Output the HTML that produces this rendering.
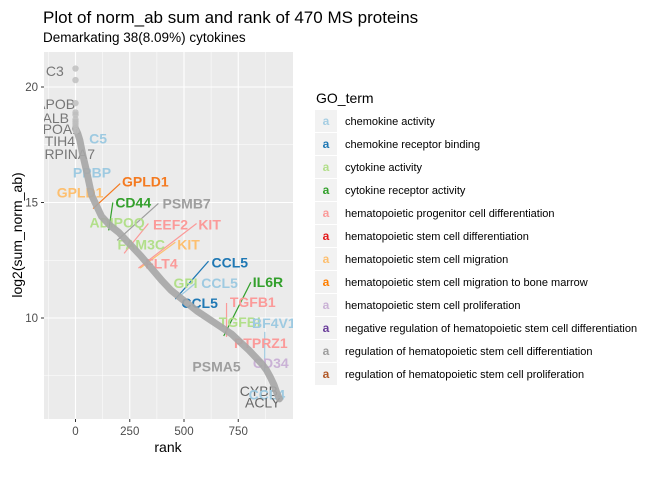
<!DOCTYPE html>
<html><head><meta charset="utf-8">
<style>
body{margin:0;background:#fff;font-family:"Liberation Sans",sans-serif;}
svg text{font-family:"Liberation Sans",sans-serif;}
</style></head>
<body>
<svg id="chart" width="672" height="480" xmlns="http://www.w3.org/2000/svg">
<text x="43" y="23" font-size="17" fill="#000">Plot of norm_ab sum and rank of 470 MS proteins</text>
<text x="43" y="42" font-size="13.5" fill="#000">Demarkating 38(8.09%) cytokines</text>
<defs><clipPath id="pc"><rect x="44" y="52" width="249" height="367"/></clipPath></defs>
<rect x="44" y="52" width="249" height="367" fill="#ebebeb"/>
<g id="grid"></g>
<g id="marks" clip-path="url(#pc)"></g>
<g id="axes"></g>
<text x="168" y="452" font-size="14" text-anchor="middle">rank</text>
<text transform="translate(22,235) rotate(-90)" font-size="14" text-anchor="middle">log2(sum_norm_ab)</text>
<g id="legend"></g>
</svg>
<script>
const curveRanks=[0,10,20,35,50,75,100,120,160,200,250,300,350,400,440,480,520,560,600,640,680,720,760,800,830,860,880,900,915,930,940];
const curveValues=[18.2,18.0,17.7,17.0,16.4,15.3,14.8,14.4,14.0,13.7,13.2,12.7,12.15,11.6,11.2,10.9,10.6,10.3,10.05,9.8,9.55,9.3,8.95,8.6,8.3,8.0,7.75,7.4,7.1,6.7,6.5];
const topRanks=[0,0,0,0,0,0,0,0,0,3];
const topValues=[20.8,20.3,19.3,18.9,18.8,18.6,18.5,18.4,18.3,18.1];
const xTicks=[0,250,500,750];
const yTicks=[10,15,20];
const goTerms=["chemokine activity","chemokine receptor binding","cytokine activity","cytokine receptor activity","hematopoietic progenitor cell differentiation","hematopoietic stem cell differentiation","hematopoietic stem cell migration","hematopoietic stem cell migration to bone marrow","hematopoietic stem cell proliferation","negative regulation of hematopoietic stem cell differentiation","regulation of hematopoietic stem cell differentiation","regulation of hematopoietic stem cell proliferation"];
const goColors=["#a6cee3","#1f78b4","#b2df8a","#33a02c","#fb9a99","#e31a1c","#fdbf6f","#ff7f00","#cab2d6","#6a3d9a","#9e9e9e","#b15928"];
const labels=[
["C3",-95,20.69,"#777",0,"middle"],
["APOB",-2,19.27,"#777",0,"end"],
["ALB",-30,18.66,"#777",0,"end"],
["APOA1",21,18.19,"#777",0,"end"],
["ITIH4",-2,17.67,"#777",0,"end"],
["SERPINA7",90,17.11,"#777",0,"end"],
["C5",104,17.76,"#9ecae1",1,"middle"],
["PPBP",76,16.29,"#9ecae1",1,"middle"],
["GPLD1",21,15.43,"#fdbf6f",1,"middle"],
["GPLD1",322,15.91,"#f47a20",1,"middle"],
["CD44",266,15.0,"#33a02c",1,"middle"],
["ADIPOQ",192,14.14,"#b2df8a",1,"middle"],
["PSMB7",512,14.96,"#9e9e9e",1,"middle"],
["EEF2",438,14.05,"#fb9a99",1,"middle"],
["KIT",618,14.05,"#fb9a99",1,"middle"],
["FAM3C",303,13.19,"#b2df8a",1,"middle"],
["KIT",521,13.19,"#fdbf6f",1,"middle"],
["FLT4",396,12.37,"#fb9a99",1,"middle"],
["CCL5",711,12.41,"#1f78b4",1,"middle"],
["GPI",507,11.51,"#b2df8a",1,"middle"],
["CCL5",664,11.51,"#9ecae1",1,"middle"],
["CCL5",572,10.65,"#1f78b4",1,"middle"],
["IL6R",887,11.55,"#33a02c",1,"middle"],
["TGFB1",817,10.69,"#fb9a99",1,"middle"],
["TGFBI",757,9.83,"#b2df8a",1,"middle"],
["BF4V1",914,9.78,"#9ecae1",1,"middle"],
["PTPRZ1",854,8.92,"#fb9a99",1,"middle"],
["CD34",900,8.06,"#cab2d6",1,"middle"],
["PSMA5",650,7.89,"#9e9e9e",1,"middle"],
["CYBB",845,6.85,"#666",0,"middle"],
["CCL4",882,6.68,"#9ecae1",1,"middle"],
["ACLY",863,6.34,"#666",0,"middle"]
];
const segments=[
["#f47a20",81,14.74,206,15.82],
["#33a02c",153,13.79,172,15.0],
["#9e9e9e",192,13.36,382,14.96],
["#fb9a99",224,12.8,336,14.09],
["#fb9a99",290,12.16,558,14.09],
["#fdbf6f",298,12.16,460,13.28],
["#1f78b4",460,10.82,613,12.46],
["#9ecae1",470,10.86,553,11.51],
["#33a02c",683,9.22,808,11.55],
["#fb9a99",696,9.18,696,10.65],
["#9ecae1",872,7.67,872,9.4]
];
const NS="http://www.w3.org/2000/svg";
const x=r=>75.5+r*0.217;
const y=v=>87+(20-v)*23.1;
function mk(tag,attrs,parent){const e=document.createElementNS(NS,tag);for(const k in attrs)e.setAttribute(k,attrs[k]);parent.appendChild(e);return e;}
const grid=document.getElementById('grid'),marks=document.getElementById('marks'),axes=document.getElementById('axes'),legend=document.getElementById('legend');
[-125,125,375,625,875].forEach(t=>{const l=mk('line',{x1:x(t),x2:x(t),y1:52,y2:419,stroke:'#fff','stroke-width':0.5},grid);

});
[7.5,12.5,17.5].forEach(t=>{const l=mk('line',{x1:44,x2:293,y1:y(t),y2:y(t),stroke:'#fff','stroke-width':0.5},grid);

});
xTicks.forEach(t=>{const l=mk('line',{x1:x(t),x2:x(t),y1:52,y2:419,stroke:'#fff','stroke-width':1.1},grid);


const tk=mk('line',{x1:x(t),x2:x(t),y1:419,y2:422,stroke:'#333'},axes);


const tx=mk('text',{x:x(t),y:435,'font-size':11.5,fill:'#4d4d4d','text-anchor':'middle'},axes);tx.textContent=t;

});
yTicks.forEach(t=>{const l=mk('line',{x1:44,x2:293,y1:y(t),y2:y(t),stroke:'#fff','stroke-width':1.1},grid);


const tk=mk('line',{x1:41,x2:44,y1:y(t),y2:y(t),stroke:'#333'},axes);


const tx=mk('text',{x:38,y:y(t)+4,'font-size':11.5,fill:'#4d4d4d','text-anchor':'end'},axes);tx.textContent=t;

});
segments.forEach(S=>{const s=mk('line',{x1:x(S[1]),y1:y(S[2]),x2:x(S[3]),y2:y(S[4]),stroke:S[0],'stroke-width':1.2},marks);

});
labels.forEach(L=>{const t=mk('text',{x:x(L[1]),y:y(L[2])+5,'font-size':14,fill:L[3],'text-anchor':L[5],'font-weight':L[4]?'bold':'normal'},marks);t.textContent=L[0];

});
const pts=curveRanks.map((r,i)=>x(r)+','+y(curveValues[i])).join(' ');
const pl=mk('polyline',{points:pts,fill:'none',stroke:'#a6a6a6','stroke-width':7,'stroke-linejoin':'round','stroke-linecap':'round','stroke-opacity':0.9},marks);


topRanks.forEach((r,i)=>{const c=mk('circle',{cx:x(r),cy:y(topValues[i]),r:3.2,fill:'#bdbdbd','fill-opacity':0.8},marks);

});
const lt=mk('text',{x:316,y:103,'font-size':14},legend);lt.textContent='GO_term';


goTerms.forEach((g,i)=>{const yy=110+i*23;
const b=mk('rect',{x:315,y:yy,width:22,height:22,fill:'#f2f2f2'},legend);


const a=mk('text',{x:326,y:yy+15,'font-size':12,fill:goColors[i],'text-anchor':'middle','font-weight':'bold'},legend);a.textContent='a';


const t=mk('text',{x:345,y:yy+15,'font-size':11,fill:'#000'},legend);t.textContent=g;

});
</script>
</body></html>
